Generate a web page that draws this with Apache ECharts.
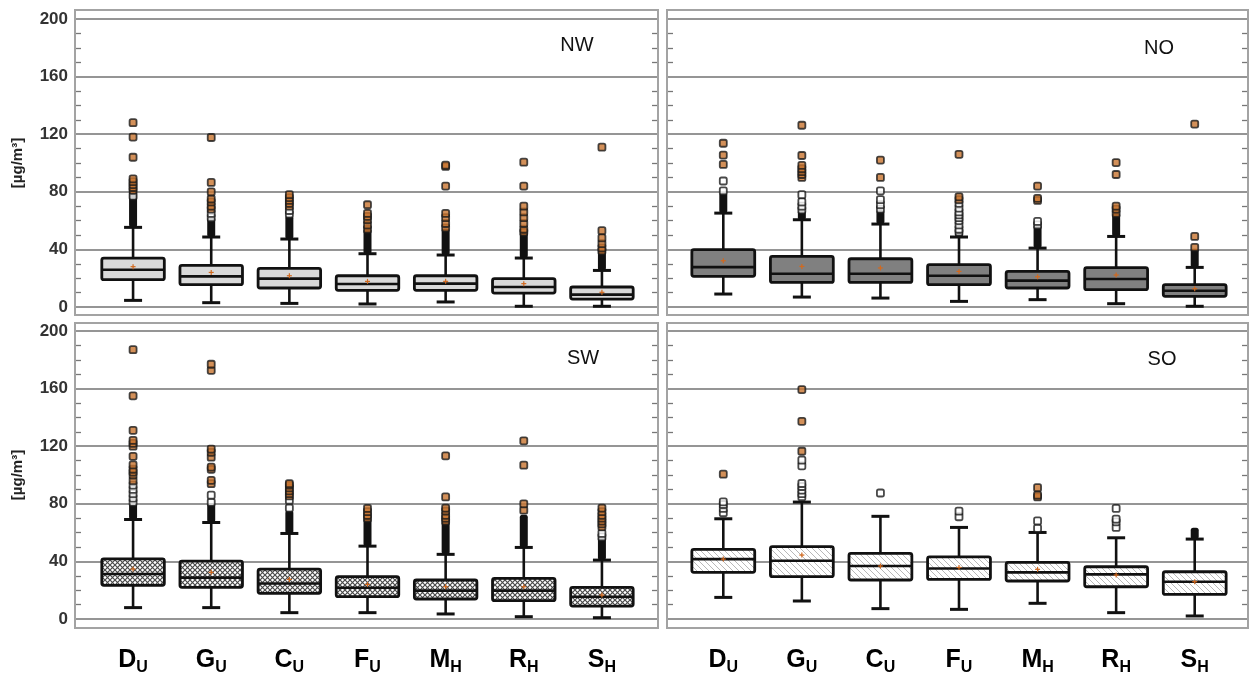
<!DOCTYPE html>
<html><head><meta charset="utf-8">
<script src="https://cdn.jsdelivr.net/npm/echarts@6/dist/echarts.min.js"></script>
<style>html,body{margin:0;padding:0;background:#fff}#c{width:1250px;height:673px}</style>
</head><body><div id="c"></div>
<script>
// ---------- DATA ----------
const categories = ['D','G','C','F','M','R','S'];
const categorySubs = ['U','U','U','U','H','H','H'];
const panelNames = ['NW','NO','SW','SO'];
const yAxisTitle = '[µg/m³]';

// box statistics: [lower whisker, Q1, median, Q3, upper whisker]
const nwBox = [[4.6,19.0,25.9,34.0,55.3],[3.0,15.5,21.3,28.9,48.6],[2.5,13.2,19.7,26.8,47.2],[2.1,11.6,16.0,21.7,37.0],[3.5,11.6,16.2,21.7,36.1],[0.5,9.7,13.9,19.7,34.0],[0.5,5.5,8.6,13.9,25.4]];
const noBox = [[9.0,21.3,27.7,39.8,65.2],[6.9,17.1,23.1,35.1,60.6],[6.2,17.1,23.1,33.5,57.6],[3.9,15.5,21.7,29.4,48.6],[5.1,13.2,18.3,24.7,40.9],[2.3,12.0,19.4,27.3,49.0],[0.5,7.4,11.3,15.5,27.5]];
const swBox = [[7.9,23.4,31.2,41.8,69.1],[7.9,22.0,28.7,40.2,67.0],[4.4,17.8,24.7,34.7,59.4],[4.4,15.5,21.7,29.4,50.6],[3.5,13.9,19.7,27.1,44.9],[1.6,12.7,19.7,28.2,49.7],[0.9,9.0,15.5,22.0,40.9]];
const soBox = [[15.0,32.4,41.6,48.3,69.6],[12.5,29.4,40.5,50.3,81.2],[7.2,27.1,36.8,45.6,71.3],[6.7,27.5,35.1,43.2,63.6],[10.9,26.4,32.4,39.3,60.1],[4.4,22.4,31.0,36.3,56.4],[2.1,17.1,25.9,32.8,55.5]];

// means
const nwMean = [28.0,24.0,21.7,17.8,17.8,16.2,10.2];
const noMean = [32.1,28.2,27.1,24.7,21.0,22.2,12.7];
const swMean = [34.7,32.4,27.5,24.0,22.4,22.4,16.6];
const soMean = [41.6,44.4,36.8,35.8,34.5,30.5,25.9];

// dense (overlapping) outlier runs: [from, to] per category, null = none
const nwDense = [[55.3,80],[48.6,60],[47.2,61],[37,52],[36.1,52],[34,50],[25.4,38]];
const noDense = [[65.2,77],[60.6,65],[57.6,65],[48.6,50],[40.9,55],[49,63],[27.5,38]];
const swDense = [[69.1,78],[67,78],[59.4,73],[50.6,68],[44.9,66],[49.7,70],[40.9,55]];
const soDense = [null,null,null,null,null,null,[55.5,61]];

// individual outliers (orange-centred / white-centred)
const nwOrange = [[81,83,85,87,89,104,118,128],[68,70,73,75,80,86.5,117.7],[70,72,74,76,78],[54,57,60.6,63,65,71],[55,58,62,65,84,97.6,98.5],[52,54,58,62,66,70,84,100.6],[39,41,44,48,53,111]];
const nwWhite  = [[77],[62,65],[64.5,67],[],[],[],[]];
const noOrange = [[99,105.5,113.7],[90,92,94,96,98.3,105.2,126.2],[90,102],[74.5,76.5,106],[74,75.5,84],[65,68,70,92,100.3],[41.4,49,127]];
const noWhite  = [[80.6,87.5],[67.5,70,73,78],[68,71,74.5,80.7],[52,54,57,60,62,64,66,68.7,72],[57,59.4],[],[]];
const swOrange = [[96,100,102,104,107,113,120,122,124,131,155,187],[94,96.3,104,105.5,112.4,115.8,118,172.7,176.9],[85.5,87,89,91,93,94],[70,72,74.5,76.8],[68,70,72,75,77,84.8,113.3],[75.6,80,106.8,123.7],[64,66,68,70,72,74.5,77]];
const swWhite  = [[81,84,87,90,93],[81,86],[77,82.5],[],[],[],[57,59.4]];
const soOrange = [[100.6],[116.5,137.3,159.3],[],[],[84.8,86,91.2],[],[]];
const soWhite  = [[73.8,76.8,79.5,81.4],[84.9,87,89.5,92,94.1,106.4,110.3],[87.5],[71,74.9],[63,68.1],[63.6,67.5,69.4,76.8],[]];

// ---------- STYLE / LAYOUT ----------
function makeCross(){
  const c=document.createElement('canvas'); c.width=c.height=5;
  const g=c.getContext('2d'); g.fillStyle='#fff'; g.fillRect(0,0,5,5);
  g.strokeStyle='#4a4a4a'; g.lineWidth=1.2;
  g.beginPath(); g.moveTo(0,0); g.lineTo(5,5); g.moveTo(5,0); g.lineTo(0,5); g.stroke();
  return c;
}
function makeDiag(){
  const c=document.createElement('canvas'); c.width=c.height=6;
  const g=c.getContext('2d'); g.fillStyle='#fff'; g.fillRect(0,0,6,6);
  g.strokeStyle='#b8b8b8'; g.lineWidth=1;
  g.beginPath(); g.moveTo(0,0); g.lineTo(6,6); g.moveTo(-1,5); g.lineTo(1,7); g.moveTo(5,-1); g.lineTo(7,1); g.stroke();
  return c;
}
const fills = [
  '#d9d9d9',
  '#808080',
  {type:'pattern', image: makeCross(), repeat:'repeat'},
  {type:'pattern', image: makeDiag(), repeat:'repeat'}
];
const panels = [
  {box:nwBox, mean:nwMean, dense:nwDense, orange:nwOrange, white:nwWhite, ox:75, ow:583, ix:94, iw:547, top:19, frameTop:10, showY:true, showX:false},
  {box:noBox, mean:noMean, dense:noDense, orange:noOrange, white:noWhite, ox:667, ow:581, ix:684, iw:550, top:19, frameTop:10, showY:false, showX:false},
  {box:swBox, mean:swMean, dense:swDense, orange:swOrange, white:swWhite, ox:75, ow:583, ix:94, iw:547, top:331, frameTop:323, showY:true, showX:true},
  {box:soBox, mean:soMean, dense:soDense, orange:soOrange, white:soWhite, ox:667, ow:581, ix:684, iw:550, top:331, frameTop:323, showY:false, showX:true}
];
const titlePos = [[577,45],[1159,48],[583,358],[1162,359]];
const H = 288;

const grid=[], xAxis=[], yAxis=[], series=[], graphic=[];
const FONT = 'Liberation Sans, Arial, sans-serif';

function boxRenderer(fill){
  return function(params, api){
    const x = api.value(0);
    const low = api.coord([x, api.value(1)]);
    const q1 = api.coord([x, api.value(2)]);
    const med = api.coord([x, api.value(3)]);
    const q3 = api.coord([x, api.value(4)]);
    const high = api.coord([x, api.value(5)]);
    const mean = api.coord([x, api.value(6)]);
    const bw = api.size([1,0])[0]*0.8;
    const cx = low[0], cap = 9, st = '#111', lw = 2.6;
    const ln = (x1,y1,x2,y2,w,c)=>({type:'line', shape:{x1,y1,x2,y2}, style:{stroke:c||st, lineWidth:w||lw}});
    return {type:'group', children:[
      ln(cx,low[1],cx,q1[1]),
      ln(cx,q3[1],cx,high[1]),
      ln(cx-cap,low[1],cx+cap,low[1],3),
      ln(cx-cap,high[1],cx+cap,high[1],3),
      {type:'rect', shape:{x:cx-bw/2, y:q3[1], width:bw, height:q1[1]-q3[1], r:2}, style:{fill:fill, stroke:st, lineWidth:2.8}},
      ln(cx-bw/2,med[1],cx+bw/2,med[1],2.6),
      ln(cx-2.5,mean[1],cx+2.5,mean[1],1.2,'#d2691e'),
      ln(cx,mean[1]-2.5,cx,mean[1]+2.5,1.2,'#d2691e')
    ]};
  };
}
function denseRenderer(params, api){
  const x = api.value(0);
  const a = api.coord([x, api.value(1)]);
  const b = api.coord([x, api.value(2)]);
  return {type:'rect', shape:{x:a[0]-4, y:b[1]-3.5, width:8, height:a[1]-b[1]+3.5, r:2.5}, style:{fill:'#111'}};
}

panels.forEach((p, i)=>{
  const gO = i*2, gI = i*2+1;
  grid.push({left:p.ox, top:p.top, width:p.ow, height:H, containLabel:false, outerBoundsMode:'none'});
  grid.push({left:p.ix, top:p.top, width:p.iw, height:H, containLabel:false, outerBoundsMode:'none'});
  xAxis.push({type:'value', gridIndex:gO, min:0, max:1, show:false});
  xAxis.push({type:'category', gridIndex:gI, data:categories, boundaryGap:true,
    axisLine:{show:false}, axisTick:{show:false}, splitLine:{show:false},
    axisLabel:{show:p.showX, margin:29, interval:0,
      formatter:(v, idx)=>'{b|'+v+'}{s|'+categorySubs[idx]+'}',
      rich:{b:{fontSize:25, fontWeight:'bold', fontFamily:FONT, color:'#000', verticalAlign:'top'},
            s:{fontSize:16, fontWeight:'bold', fontFamily:FONT, color:'#000', verticalAlign:'top', padding:[12,0,0,0]}}}});
  const yCommon = {type:'value', gridIndex:gO, min:0, max:200, interval:40};
  yAxis.push(Object.assign({}, yCommon, {position:'left',
    name: p.showY ? yAxisTitle : '', nameLocation:'middle', nameRotate:90, nameGap:50,
    nameTextStyle:{fontSize:15, fontWeight:'bold', fontFamily:FONT, color:'#222'},
    axisLine:{show:false}, axisTick:{show:false, inside:true},
    minorTick:{show:true, splitNumber:4, length:6, lineStyle:{color:'#777', width:1.3}},
    axisLabel:{show:p.showY, fontSize:17, fontWeight:'bold', fontFamily:FONT, color:'#333', margin:7},
    splitLine:{show:true, lineStyle:{color:'#959595', width:2}}}));
  yAxis.push(Object.assign({}, yCommon, {position:'right',
    axisLine:{show:false}, axisTick:{show:false, inside:true},
    minorTick:{show:true, splitNumber:4, length:6, lineStyle:{color:'#777', width:1.3}},
    axisLabel:{show:false}, splitLine:{show:false}}));
  yAxis.push({type:'value', gridIndex:gI, min:0, max:200, show:false});
  const yI = i*3+2;

  series.push({type:'custom', xAxisIndex:gI, yAxisIndex:yI, z:3,
    renderItem: boxRenderer(fills[i]),
    data: p.box.map((b,k)=>[k, b[0], b[1], b[2], b[3], b[4], p.mean[k]])});
  series.push({type:'custom', xAxisIndex:gI, yAxisIndex:yI, z:4,
    renderItem: denseRenderer,
    data: p.dense.map((d,k)=>d ? [k, d[0], d[1]] : null).filter(d=>d)});
  const whites = [], oranges = [];
  p.white.forEach((arr,k)=>arr.forEach(v=>whites.push([k,v])));
  p.orange.forEach((arr,k)=>arr.forEach(v=>oranges.push([k,v])));
  const sym = {type:'scatter', xAxisIndex:gI, yAxisIndex:yI, symbol:'roundRect', symbolSize:7, z:5};
  series.push(Object.assign({}, sym, {data:whites, itemStyle:{color:'#ffffff', borderColor:'#1a1a1a', borderWidth:1.8}}));
  series.push(Object.assign({}, sym, {data:oranges, itemStyle:{color:'#c8742f', borderColor:'#1a1a1a', borderWidth:1.8}}));

  graphic.push({type:'rect', shape:{x:p.ox, y:p.frameTop, width:p.ow, height:305}, style:{fill:'none', stroke:'#a3a3a3', lineWidth:2}, z:10, silent:true});
  graphic.push({type:'text', x:titlePos[i][0], y:titlePos[i][1], style:{text:panelNames[i], fontSize:20, fontFamily:FONT, fill:'#111', textAlign:'center', textVerticalAlign:'middle'}, z:10});
});

const chart = echarts.init(document.getElementById('c'), null, {renderer:'canvas'});
chart.setOption({animation:false, backgroundColor:'#fff', grid, xAxis, yAxis, series, graphic});
</script></body></html>
